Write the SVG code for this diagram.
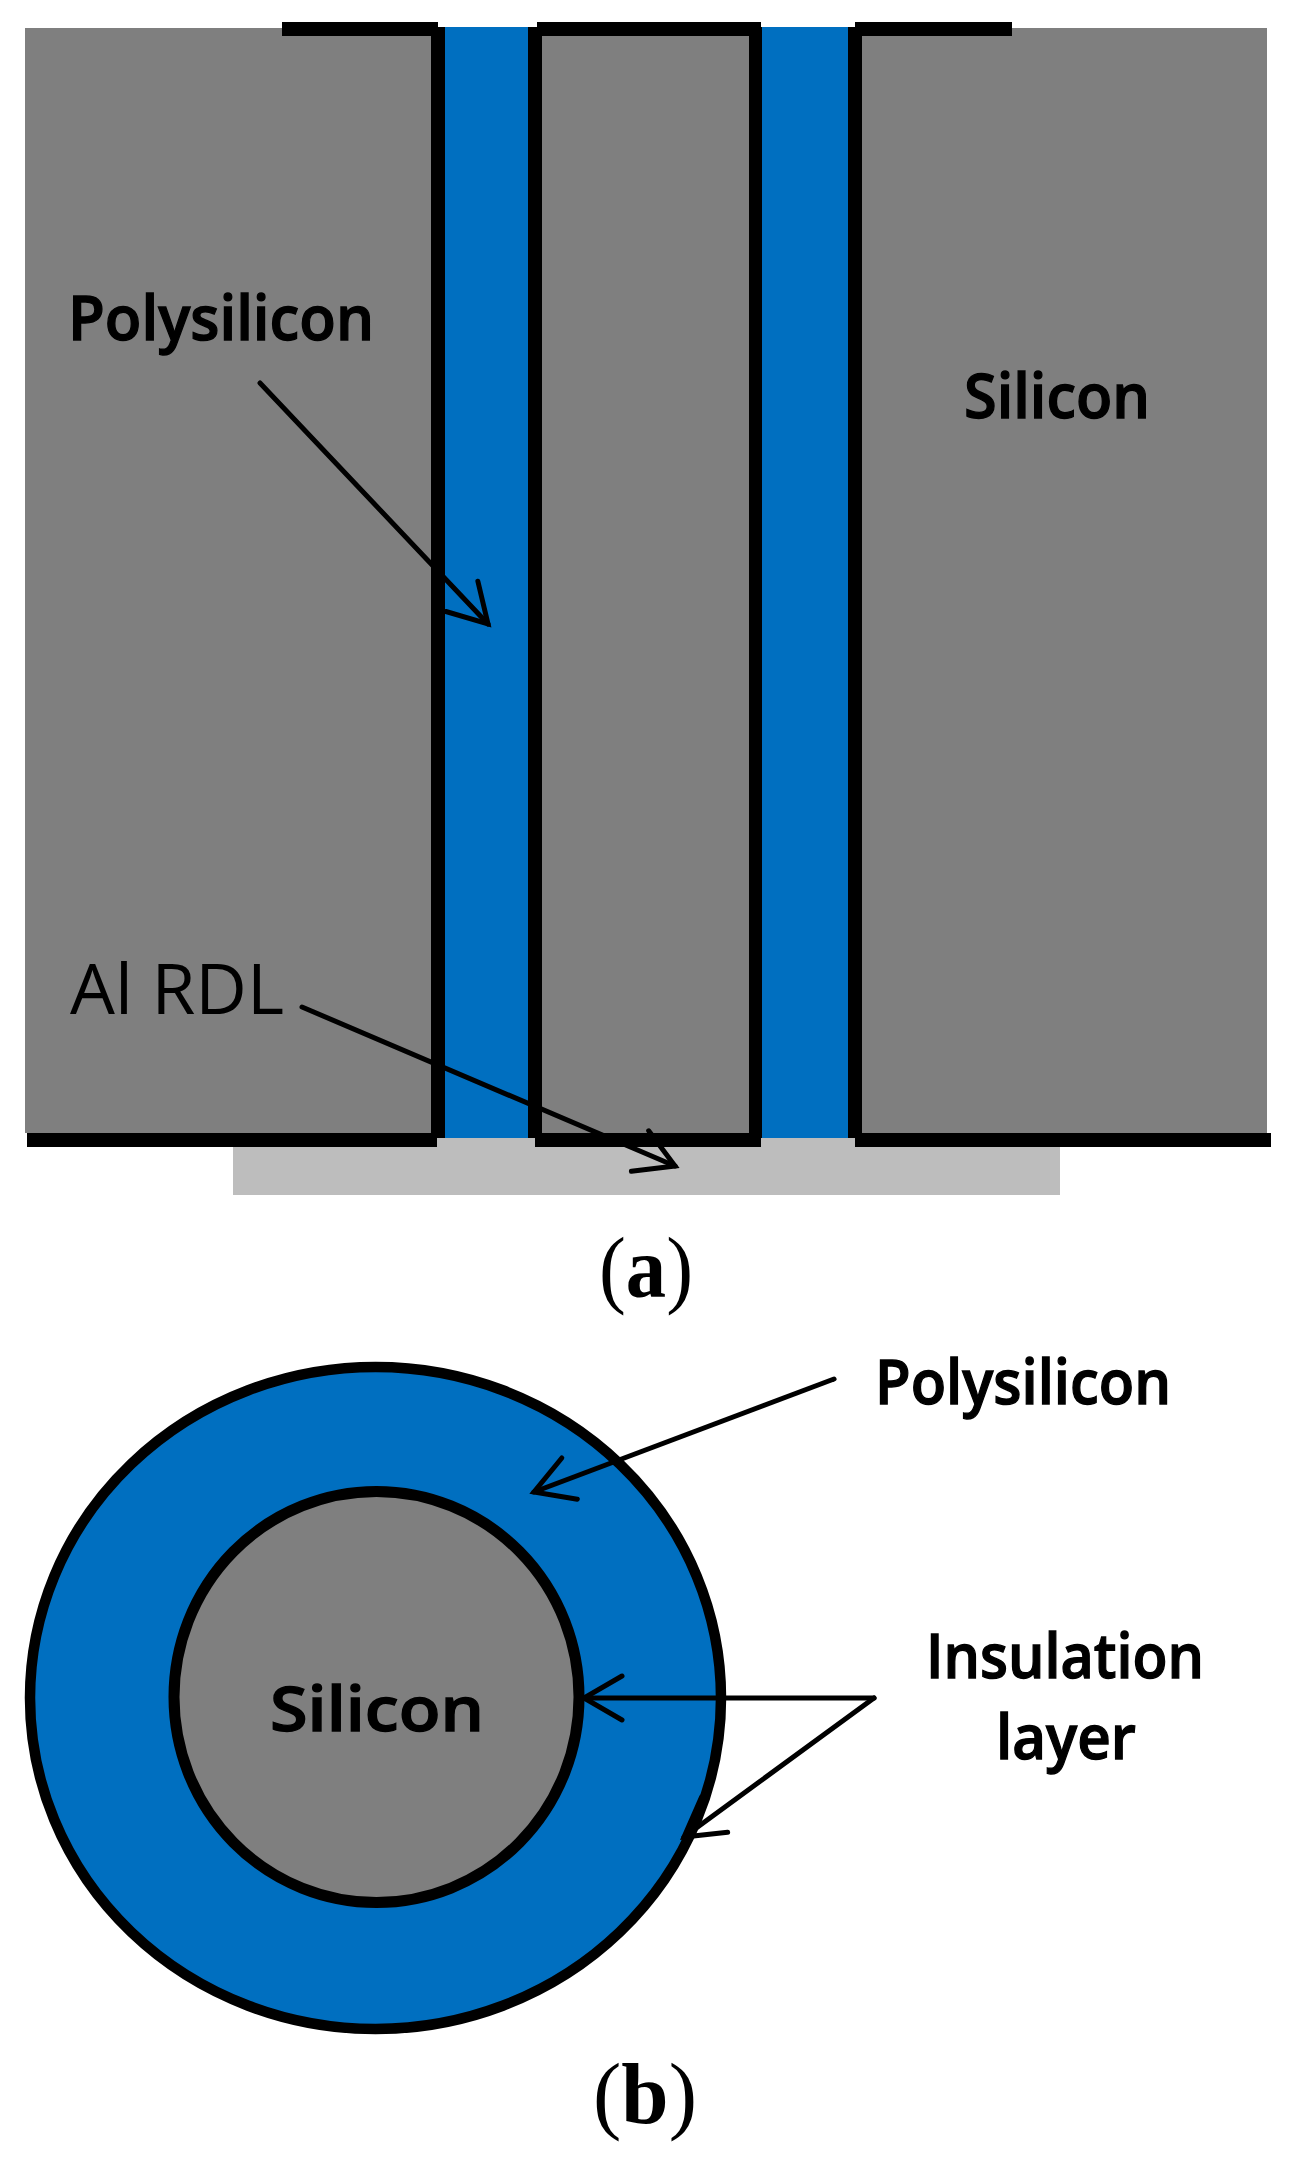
<svg xmlns="http://www.w3.org/2000/svg" width="1293" height="2160" viewBox="0 0 1293 2160">
<style>
.si{fill:#7f7f7f}
.poly{fill:#006fc0}
.rdl{fill:#bdbdbd}
.ins{fill:#000}
.ring{stroke:#000}
.lbl{font-family:"Open Sans","Liberation Sans",sans-serif;font-size:62px;font-weight:600;fill:#000;stroke:#000;stroke-width:1.300}
.thin{font-weight:400;font-size:70px;stroke:none}
.cap{font-family:"Liberation Serif",serif;font-size:87px;fill:#000}
.ln{stroke:#000;stroke-width:5;fill:none;stroke-linecap:round}
</style>
<defs>
<marker id="open" markerUnits="userSpaceOnUse" orient="auto" markerWidth="50" markerHeight="50" viewBox="-45 -25 50 50" refX="0" refY="0" overflow="visible">
<path d="M-38-22L0 0L-38 22" fill="none" stroke="#000" stroke-width="5" stroke-linecap="round"/>
</marker>
</defs>
<rect width="1293" height="2160" fill="#fff"/>
<g id="cross-section">
<rect id="al-rdl" class="rdl" x="233" y="1138" width="827" height="57"/>
<rect id="silicon-left" class="si" x="25" y="28" width="406" height="1105"/>
<rect id="silicon-middle" class="si" x="542" y="28" width="207" height="1105"/>
<rect id="silicon-right" class="si" x="862" y="28" width="405" height="1105"/>
<rect id="poly-left" class="poly" x="445" y="27" width="83" height="1111"/>
<rect id="poly-right" class="poly" x="762" y="27" width="86" height="1111"/>
<g id="insulation">
<rect class="ins" x="282" y="22" width="156" height="14"/>
<rect class="ins" x="537" y="22" width="224" height="14"/>
<rect class="ins" x="855" y="22" width="157" height="14"/>
<rect class="ins" x="431" y="27" width="14" height="1111"/>
<rect class="ins" x="528" y="27" width="14" height="1111"/>
<rect class="ins" x="749" y="27" width="13" height="1111"/>
<rect class="ins" x="848" y="27" width="14" height="1111"/>
<rect class="ins" x="27" y="1133" width="410" height="14"/>
<rect class="ins" x="535" y="1133" width="226" height="14"/>
<rect class="ins" x="855" y="1133" width="416" height="14"/>
</g>
</g>
<g id="top-view">
<ellipse id="outer-ring" class="poly ring" cx="375.500" cy="1698" rx="345.500" ry="331" stroke-width="10.500"/>
<ellipse id="inner-core" class="si ring" cx="376.500" cy="1697" rx="202.500" ry="205.500" stroke-width="11"/>
</g>
<g id="connectors">
<line class="ln" x1="260" y1="383" x2="488" y2="624" marker-end="url(#open)"/>
<line class="ln" x1="302" y1="1007" x2="675" y2="1166" marker-end="url(#open)"/>
<line class="ln" x1="834" y1="1379" x2="534" y2="1492" marker-end="url(#open)"/>
<line class="ln" x1="874" y1="1698" x2="584" y2="1698" marker-end="url(#open)"/>
<line class="ln" x1="874" y1="1698" x2="684" y2="1837" marker-end="url(#open)"/>
</g>
<g id="labels">
<text class="lbl" x="68" y="340" textLength="306" lengthAdjust="spacingAndGlyphs">Polysilicon</text>
<text class="lbl" x="964" y="418" textLength="186" lengthAdjust="spacingAndGlyphs">Silicon</text>
<text class="lbl thin" x="70" y="1014" textLength="214" lengthAdjust="spacingAndGlyphs">Al RDL</text>
<text class="cap" x="599" y="1297" textLength="94" lengthAdjust="spacingAndGlyphs">(<tspan font-weight="700">a</tspan>)</text>
<text class="lbl" x="875" y="1404" textLength="296" lengthAdjust="spacingAndGlyphs">Polysilicon</text>
<text class="lbl" x="270" y="1731" textLength="214" lengthAdjust="spacingAndGlyphs">Silicon</text>
<text class="lbl" x="926" y="1678" textLength="278" lengthAdjust="spacingAndGlyphs">Insulation</text>
<text class="lbl" x="996" y="1759" textLength="140" lengthAdjust="spacingAndGlyphs">layer</text>
<text class="cap" x="593" y="2123" textLength="104" lengthAdjust="spacingAndGlyphs">(<tspan font-weight="700">b</tspan>)</text>
</g>
</svg>
